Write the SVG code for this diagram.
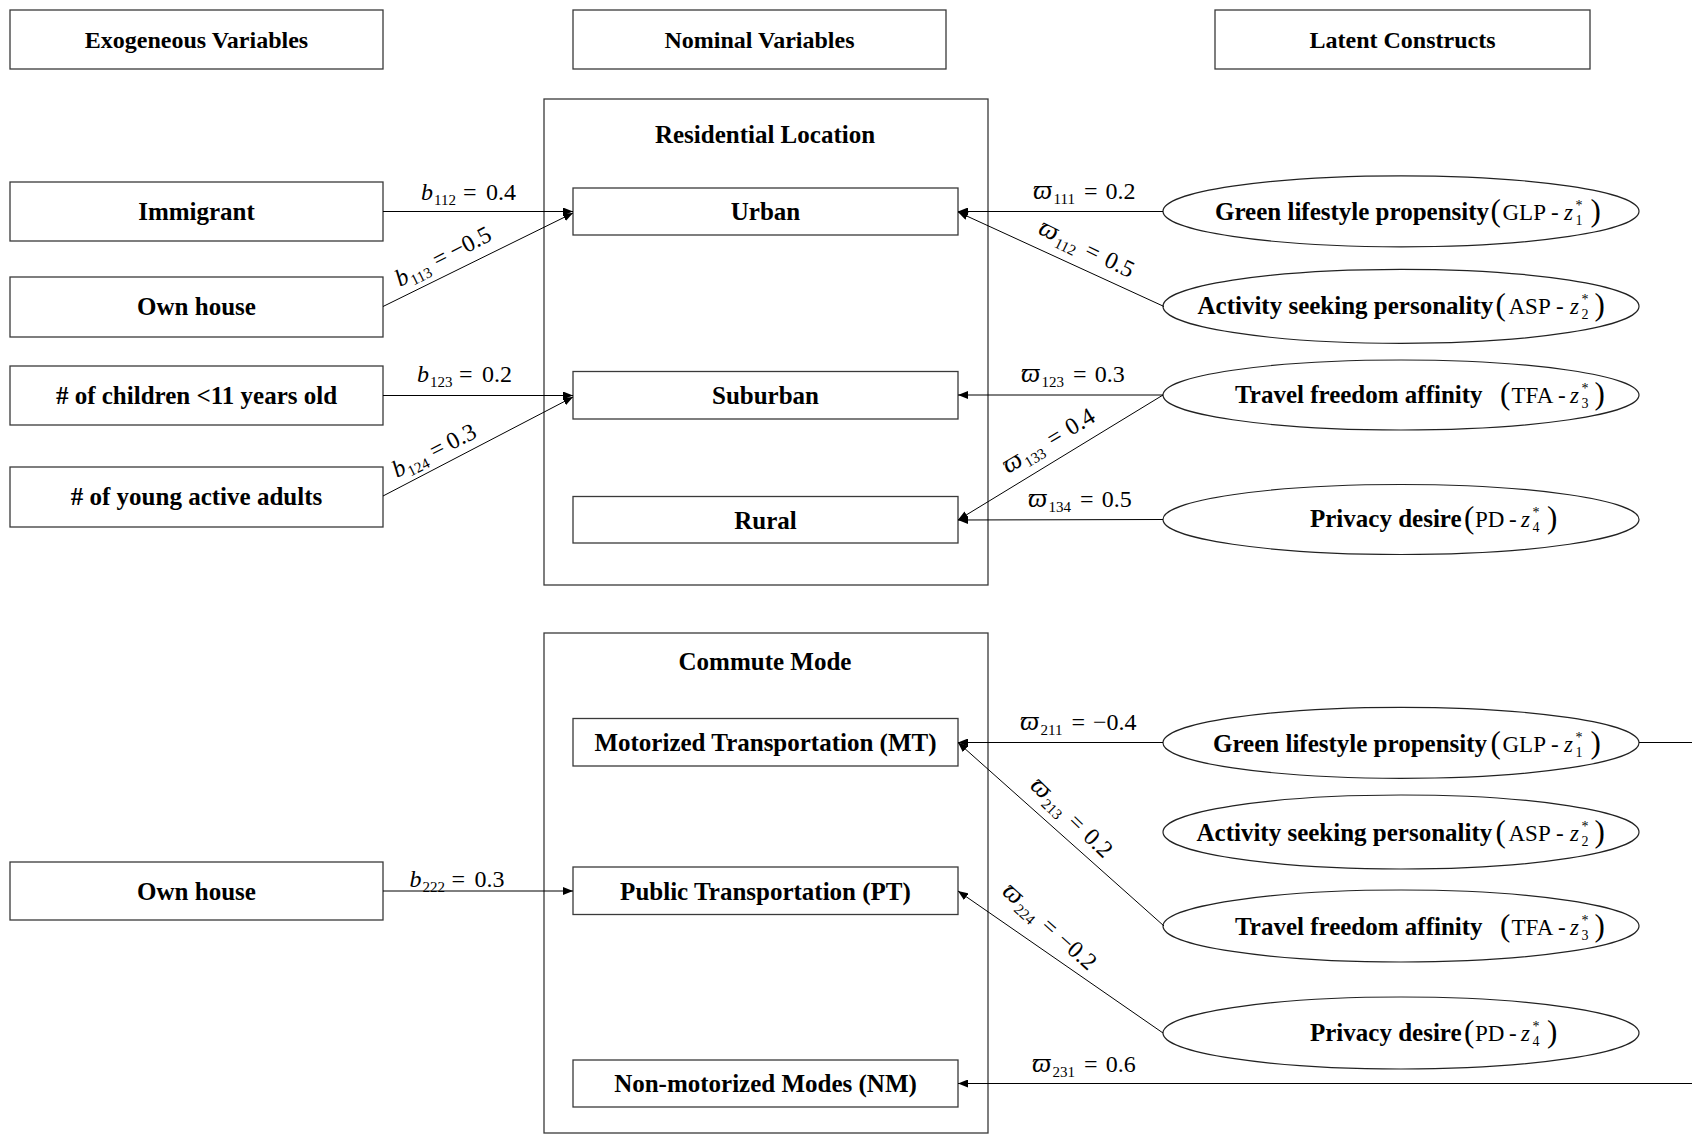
<svg xmlns="http://www.w3.org/2000/svg" width="1692" height="1134" viewBox="0 0 1692 1134">
<style>
.box{fill:#fff;stroke:#3a3a3a;stroke-width:1.3}
.ell{fill:#fff;stroke:#222;stroke-width:1.2}
.lbl{font-family:"Liberation Serif","Times New Roman",serif;font-weight:bold;font-size:25px;text-anchor:middle;fill:#000}
.hdr{font-size:24px}
.bt{font-family:"Liberation Serif","Times New Roman",serif;font-weight:bold;font-size:25px;fill:#000}
.m{font-family:"Liberation Serif","DejaVu Serif",serif;font-size:24px;fill:#000}
.r{font-family:"Liberation Serif","Times New Roman",serif;font-size:23px;fill:#000}
.par{font-size:31px}
.i{font-style:italic}
.vp{font-style:italic;font-size:27px}
.s{font-size:15px}
.ss{font-size:14px}
.conn line{stroke:#000;stroke-width:1;fill:none}
</style>
<defs>
<marker id="ah" viewBox="0 0 10 8" refX="10" refY="4" markerWidth="10" markerHeight="8" markerUnits="userSpaceOnUse" orient="auto">
<path d="M0,0 L10,4 L0,8 z" fill="#000"/>
</marker>
</defs>
<rect width="1692" height="1134" fill="#fff"/>

<!-- headers -->
<g id="hdr-exo"><rect class="box" x="10" y="10" width="373" height="59"/><text class="lbl hdr" x="196.5" y="48">Exogeneous Variables</text></g>
<g id="hdr-nom"><rect class="box" x="573" y="10" width="373" height="59"/><text class="lbl hdr" x="759.5" y="48">Nominal Variables</text></g>
<g id="hdr-lat"><rect class="box" x="1215" y="10" width="375" height="59"/><text class="lbl hdr" x="1402.5" y="48">Latent Constructs</text></g>

<!-- containers -->
<g id="res-loc"><rect class="box" x="544" y="99" width="444" height="486"/><text class="lbl" x="765" y="142.5">Residential Location</text></g>
<g id="commute"><rect class="box" x="544" y="633" width="444" height="500"/><text class="lbl" x="765" y="670">Commute Mode</text></g>

<!-- exogenous nodes -->
<g id="immigrant"><rect class="box" x="10" y="182" width="373" height="59"/><text class="lbl" x="196.5" y="220">Immigrant</text></g>
<g id="ownhouse1"><rect class="box" x="10" y="277" width="373" height="60"/><text class="lbl" x="196.5" y="315">Own house</text></g>
<g id="children"><rect class="box" x="10" y="366" width="373" height="59"/><text class="lbl" x="196.5" y="404">&#35; of children &lt;11 years old</text></g>
<g id="youngadults"><rect class="box" x="10" y="467" width="373" height="60"/><text class="lbl" x="196.5" y="505">&#35; of young active adults</text></g>
<g id="ownhouse2"><rect class="box" x="10" y="862" width="373" height="58"/><text class="lbl" x="196.5" y="899.5">Own house</text></g>

<!-- nominal nodes -->
<g id="urban"><rect class="box" x="573" y="188" width="385" height="47"/><text class="lbl" x="765.5" y="220">Urban</text></g>
<g id="suburban"><rect class="box" x="573" y="371.5" width="385" height="47.5"/><text class="lbl" x="765.5" y="404">Suburban</text></g>
<g id="rural"><rect class="box" x="573" y="496.5" width="385" height="46.5"/><text class="lbl" x="765.5" y="528.5">Rural</text></g>
<g id="mt"><rect class="box" x="573" y="718.5" width="385" height="47.5"/><text class="lbl" x="765.5" y="751">Motorized Transportation (MT)</text></g>
<g id="pt"><rect class="box" x="573" y="867" width="385" height="47.5"/><text class="lbl" x="765.5" y="899.5">Public Transportation (PT)</text></g>
<g id="nm"><rect class="box" x="573" y="1060" width="385" height="47"/><text class="lbl" x="765.5" y="1092">Non-motorized Modes (NM)</text></g>

<!-- latent nodes (top) -->
<g id="glp1"><ellipse class="ell" cx="1401" cy="211.3" rx="238" ry="35.5"/>
<text class="bt" x="1215" y="220">Green lifestyle propensity</text>
<text class="r"><tspan class="par" x="1490.5" y="221">(</tspan><tspan x="1502.5" y="220">GLP</tspan><tspan x="1551" y="220">-</tspan><tspan class="i" x="1564" y="220">z</tspan><tspan class="ss" x="1575.5" y="225">1</tspan><tspan class="ss" x="1575.5" y="210">*</tspan><tspan class="par" x="1590.5" y="221">)</tspan></text></g>
<g id="asp1"><ellipse class="ell" cx="1401" cy="306.3" rx="238" ry="37"/>
<text class="bt" x="1197.5" y="314">Activity seeking personality</text>
<text class="r"><tspan class="par" x="1495.5" y="315">(</tspan><tspan x="1508.5" y="314">ASP</tspan><tspan x="1556" y="314">-</tspan><tspan class="i" x="1570" y="314">z</tspan><tspan class="ss" x="1581.5" y="319">2</tspan><tspan class="ss" x="1581.5" y="304">*</tspan><tspan class="par" x="1594.5" y="315">)</tspan></text></g>
<g id="tfa1"><ellipse class="ell" cx="1401" cy="395" rx="238" ry="35"/>
<text class="bt" x="1235" y="403">Travel freedom affinity</text>
<text class="r"><tspan class="par" x="1500" y="404">(</tspan><tspan x="1511.5" y="403">TFA</tspan><tspan x="1558" y="403">-</tspan><tspan class="i" x="1570" y="403">z</tspan><tspan class="ss" x="1581.5" y="408">3</tspan><tspan class="ss" x="1581.5" y="393">*</tspan><tspan class="par" x="1594.5" y="404">)</tspan></text></g>
<g id="pd1"><ellipse class="ell" cx="1401" cy="519.5" rx="238" ry="35"/>
<text class="bt" x="1310" y="527">Privacy desire</text>
<text class="r"><tspan class="par" x="1464" y="528">(</tspan><tspan x="1475" y="527">PD</tspan><tspan x="1509" y="527">-</tspan><tspan class="i" x="1521" y="527">z</tspan><tspan class="ss" x="1532.5" y="532">4</tspan><tspan class="ss" x="1532.5" y="517">*</tspan><tspan class="par" x="1547" y="528">)</tspan></text></g>

<!-- latent nodes (bottom) -->
<g id="glp2"><ellipse class="ell" cx="1401" cy="742.8" rx="238" ry="35.5"/>
<text class="bt" x="1213" y="751.5">Green lifestyle propensity</text>
<text class="r"><tspan class="par" x="1490.5" y="752.5">(</tspan><tspan x="1502.5" y="751.5">GLP</tspan><tspan x="1551" y="751.5">-</tspan><tspan class="i" x="1564" y="751.5">z</tspan><tspan class="ss" x="1575.5" y="756.5">1</tspan><tspan class="ss" x="1575.5" y="741.5">*</tspan><tspan class="par" x="1590.5" y="752.5">)</tspan></text></g>
<g id="asp2"><ellipse class="ell" cx="1401" cy="832" rx="238" ry="37"/>
<text class="bt" x="1196.5" y="841">Activity seeking personality</text>
<text class="r"><tspan class="par" x="1495.5" y="842">(</tspan><tspan x="1508.5" y="841">ASP</tspan><tspan x="1556" y="841">-</tspan><tspan class="i" x="1570" y="841">z</tspan><tspan class="ss" x="1581.5" y="846">2</tspan><tspan class="ss" x="1581.5" y="831">*</tspan><tspan class="par" x="1594.5" y="842">)</tspan></text></g>
<g id="tfa2"><ellipse class="ell" cx="1401" cy="926" rx="238" ry="36"/>
<text class="bt" x="1235" y="935">Travel freedom affinity</text>
<text class="r"><tspan class="par" x="1500" y="936">(</tspan><tspan x="1511.5" y="935">TFA</tspan><tspan x="1558" y="935">-</tspan><tspan class="i" x="1570" y="935">z</tspan><tspan class="ss" x="1581.5" y="940">3</tspan><tspan class="ss" x="1581.5" y="925">*</tspan><tspan class="par" x="1594.5" y="936">)</tspan></text></g>
<g id="pd2"><ellipse class="ell" cx="1401" cy="1033" rx="238" ry="36"/>
<text class="bt" x="1310" y="1041">Privacy desire</text>
<text class="r"><tspan class="par" x="1464" y="1042">(</tspan><tspan x="1475" y="1041">PD</tspan><tspan x="1509" y="1041">-</tspan><tspan class="i" x="1521" y="1041">z</tspan><tspan class="ss" x="1532.5" y="1046">4</tspan><tspan class="ss" x="1532.5" y="1031">*</tspan><tspan class="par" x="1547" y="1042">)</tspan></text></g>

<!-- connectors -->
<g id="connectors" class="conn">
<line x1="383" y1="211.5" x2="573" y2="211.5" marker-end="url(#ah)"/>
<line x1="383" y1="306.5" x2="573" y2="213" marker-end="url(#ah)"/>
<line x1="383" y1="395.5" x2="573" y2="395.5" marker-end="url(#ah)"/>
<line x1="383" y1="496" x2="573" y2="397" marker-end="url(#ah)"/>
<line x1="1163" y1="211.5" x2="958" y2="211.5" marker-end="url(#ah)"/>
<line x1="1164" y1="306.5" x2="958" y2="212" marker-end="url(#ah)"/>
<line x1="1163" y1="395" x2="958" y2="395" marker-end="url(#ah)"/>
<line x1="1163" y1="395" x2="958" y2="520" marker-end="url(#ah)"/>
<line x1="1163" y1="519.5" x2="958" y2="520" marker-end="url(#ah)"/>
<line x1="383" y1="891" x2="573" y2="891" marker-end="url(#ah)"/>
<line x1="1163" y1="742.5" x2="958" y2="742.5" marker-end="url(#ah)"/>
<line x1="1164" y1="926" x2="958" y2="742.5" marker-end="url(#ah)"/>
<line x1="1163" y1="1033" x2="958" y2="891" marker-end="url(#ah)"/>
<line x1="1639" y1="742.5" x2="1692" y2="742.5"/>
<line x1="1692" y1="1083.5" x2="958" y2="1083.5" marker-end="url(#ah)"/>

<!-- connector labels -->
<text class="m" y="200"><tspan class="i" x="421">b</tspan><tspan class="s" x="434" y="205">112</tspan><tspan x="463" y="200">=</tspan><tspan x="486" y="200">0.4</tspan></text>
<text class="m" transform="translate(400,287) rotate(-27)" y="0"><tspan class="i" x="0">b</tspan><tspan class="s" x="13" y="5">113</tspan><tspan x="42" y="0">=</tspan><tspan x="61" y="0">&#8722;0.5</tspan></text>
<text class="m" y="381.5"><tspan class="i" x="417">b</tspan><tspan class="s" x="430" y="386.5">123</tspan><tspan x="459" y="381.5">=</tspan><tspan x="482" y="381.5">0.2</tspan></text>
<text class="m" transform="translate(397,478) rotate(-27)" y="0"><tspan class="i" x="0">b</tspan><tspan class="s" x="13" y="5">124</tspan><tspan x="42" y="0">=</tspan><tspan x="61" y="0">0.3</tspan></text>
<text class="m" y="887"><tspan class="i" x="409.5">b</tspan><tspan class="s" x="422.5" y="892">222</tspan><tspan x="451.5" y="887">=</tspan><tspan x="474.5" y="887">0.3</tspan></text>

<text class="m" y="198.5"><tspan class="vp" x="1033">&#982;</tspan><tspan class="s" dx="1.5" y="203.5">111</tspan><tspan dx="9" y="198.5">=</tspan><tspan dx="8">0.2</tspan></text>
<text class="m" transform="translate(1037,233) rotate(26)" y="0"><tspan class="vp" x="0">&#982;</tspan><tspan class="s" dx="1.5" y="5">112</tspan><tspan dx="9" y="0">=</tspan><tspan dx="8">0.5</tspan></text>
<text class="m" y="381.5"><tspan class="vp" x="1021">&#982;</tspan><tspan class="s" dx="1.5" y="386.5">123</tspan><tspan dx="9" y="381.5">=</tspan><tspan dx="8">0.3</tspan></text>
<text class="m" transform="translate(1008,474) rotate(-31)" y="0"><tspan class="vp" x="0">&#982;</tspan><tspan class="s" dx="1.5" y="5">133</tspan><tspan dx="9" y="0">=</tspan><tspan dx="8">0.4</tspan></text>
<text class="m" y="506.5"><tspan class="vp" x="1028">&#982;</tspan><tspan class="s" dx="1.5" y="511.5">134</tspan><tspan dx="9" y="506.5">=</tspan><tspan dx="8">0.5</tspan></text>

<text class="m" y="730"><tspan class="vp" x="1020">&#982;</tspan><tspan class="s" dx="1.5" y="735">211</tspan><tspan dx="9" y="730">=</tspan><tspan dx="8">&#8722;0.4</tspan></text>
<text class="m" transform="translate(1029,787) rotate(44)" y="0"><tspan class="vp" x="0">&#982;</tspan><tspan class="s" dx="1.5" y="5">213</tspan><tspan dx="9" y="0">=</tspan><tspan dx="8">0.2</tspan></text>
<text class="m" transform="translate(1001,893) rotate(42)" y="0"><tspan class="vp" x="0">&#982;</tspan><tspan class="s" dx="1.5" y="5">224</tspan><tspan dx="9" y="0">=</tspan><tspan dx="8">&#8722;0.2</tspan></text>
<text class="m" y="1071.5"><tspan class="vp" x="1032">&#982;</tspan><tspan class="s" dx="1.5" y="1076.5">231</tspan><tspan dx="9" y="1071.5">=</tspan><tspan dx="8">0.6</tspan></text>
</g>
</svg>
